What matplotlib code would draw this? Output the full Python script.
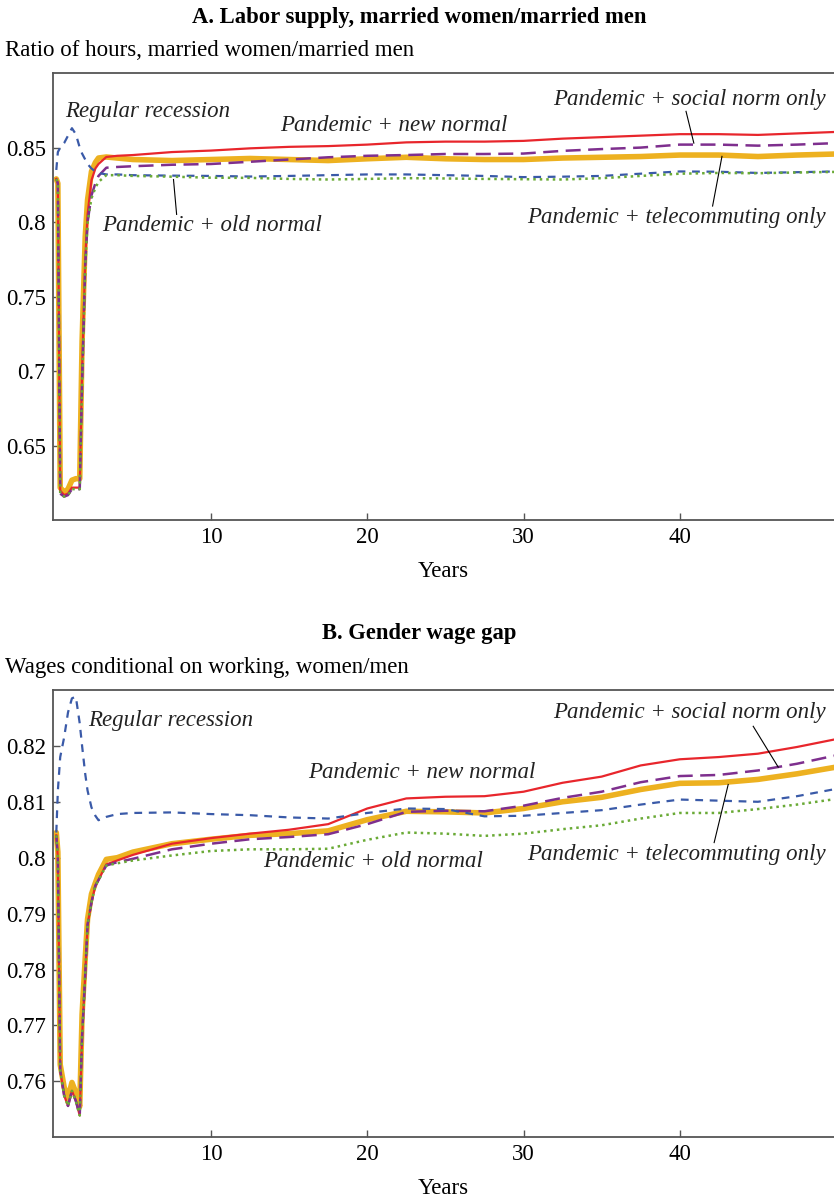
import numpy as np
import matplotlib.pyplot as plt

# years after shock (common grid for all series)
years = [0.1, 0.2, 0.35, 0.6, 0.85, 1.1, 1.35, 1.6, 1.75, 1.95, 2.1, 2.35, 2.6, 2.8, 3.3,
         4, 5, 7.5, 10, 12.5, 15, 17.5, 20, 22.5, 25, 27.5, 30, 32.5, 35, 37.5, 40, 42.5, 45, 47.5, 50]

# Panel A: ratio of hours, married women / married men
hours_new_normal = [0.829, 0.826, 0.620, 0.617, 0.618, 0.622, 0.622, 0.622, 0.700, 0.775, 0.805, 0.828, 0.836, 0.839, 0.8437,
                    0.8445, 0.845, 0.847, 0.848, 0.8495, 0.8505, 0.851, 0.852, 0.8535, 0.854, 0.854, 0.8545, 0.856, 0.857,
                    0.858, 0.859, 0.859, 0.8585, 0.8595, 0.8605]
hours_telecommuting = [0.829, 0.826, 0.622, 0.619, 0.621, 0.627, 0.628, 0.628, 0.720, 0.790, 0.815, 0.834, 0.840, 0.843, 0.8437,
                       0.843, 0.842, 0.8413, 0.842, 0.8427, 0.842, 0.8413, 0.8425, 0.8435, 0.8425, 0.842, 0.842, 0.843, 0.8435,
                       0.844, 0.845, 0.845, 0.844, 0.845, 0.8457]
hours_social_norm = [0.829, 0.826, 0.618, 0.616, 0.617, 0.621, 0.621, 0.621, 0.690, 0.770, 0.800, 0.818, 0.826, 0.831, 0.8365,
                     0.837, 0.8375, 0.8385, 0.839, 0.8405, 0.842, 0.8435, 0.8445, 0.845, 0.8457, 0.8457, 0.846, 0.8478, 0.849,
                     0.850, 0.852, 0.852, 0.8513, 0.852, 0.853]
hours_old_normal = [0.829, 0.826, 0.618, 0.616, 0.617, 0.621, 0.621, 0.621, 0.690, 0.770, 0.800, 0.816, 0.823, 0.827, 0.8315,
                    0.8315, 0.831, 0.8305, 0.8298, 0.8297, 0.829, 0.8286, 0.829, 0.8295, 0.8293, 0.829, 0.8288, 0.8286, 0.8295,
                    0.831, 0.8325, 0.833, 0.8328, 0.8333, 0.8337]
hours_recession = [0.835, 0.847, 0.850, 0.853, 0.858, 0.863, 0.859, 0.850, 0.846, 0.842, 0.839, 0.836, 0.834, 0.833, 0.832,
                   0.832, 0.8315, 0.8312, 0.831, 0.8306, 0.831, 0.8315, 0.832, 0.832, 0.8315, 0.831, 0.8302, 0.8305, 0.831,
                   0.8325, 0.834, 0.8338, 0.833, 0.8335, 0.834]

# Panel B: wages conditional on working, women / men
wage_new_normal = [0.804, 0.800, 0.762, 0.7575, 0.7556, 0.7583, 0.7565, 0.7539, 0.768, 0.779, 0.788, 0.792, 0.795, 0.796, 0.7988,
                   0.7995, 0.8005, 0.8025, 0.8035, 0.8043, 0.805, 0.806, 0.8088, 0.8106, 0.8109, 0.811, 0.8118, 0.8134, 0.8145,
                   0.8165, 0.8176, 0.818, 0.8186, 0.8198, 0.8212]
wage_telecommuting = [0.8045, 0.801, 0.763, 0.759, 0.757, 0.7598, 0.758, 0.7555, 0.772, 0.782, 0.789, 0.7935, 0.7955, 0.797, 0.7997,
                      0.800, 0.801, 0.8025, 0.8033, 0.804, 0.8043, 0.8048, 0.8068, 0.8083, 0.8082, 0.808, 0.8088, 0.810, 0.8108,
                      0.8122, 0.8133, 0.8134, 0.814, 0.815, 0.8162]
wage_social_norm = [0.804, 0.800, 0.762, 0.7575, 0.7556, 0.7583, 0.7565, 0.7539, 0.768, 0.779, 0.788, 0.792, 0.795, 0.796, 0.7986,
                    0.7992, 0.7998, 0.8015, 0.8025, 0.8033, 0.8037, 0.8042, 0.806, 0.8082, 0.8084, 0.8083, 0.8093, 0.8107, 0.8118,
                    0.8135, 0.8146, 0.8148, 0.8156, 0.8168, 0.8183]
wage_old_normal = [0.804, 0.800, 0.762, 0.7575, 0.7556, 0.7583, 0.7565, 0.7539, 0.768, 0.779, 0.788, 0.792, 0.795, 0.796, 0.7986,
                   0.799, 0.7995, 0.8004, 0.8012, 0.8015, 0.8015, 0.8016, 0.8032, 0.8045, 0.8043, 0.8039, 0.8043, 0.8051, 0.8058,
                   0.807, 0.808, 0.808, 0.8087, 0.8095, 0.8105]
wage_recession = [0.8045, 0.812, 0.818, 0.8215, 0.826, 0.8285, 0.8288, 0.824, 0.820, 0.815, 0.812, 0.809, 0.8075, 0.8067, 0.8073,
                  0.8078, 0.808, 0.8081, 0.8078, 0.8076, 0.8072, 0.807, 0.808, 0.8088, 0.8087, 0.8074, 0.8075, 0.808, 0.8085,
                  0.8095, 0.8104, 0.8102, 0.810, 0.811, 0.8123]

plt.rcParams['font.family'] = ['Liberation Serif', 'DejaVu Serif']
plt.rcParams['font.size'] = 16.5

RED = '#e8262c'
YELLOW = '#edb120'
PURPLE = '#7e2f8e'
BLUE = '#3a5aa8'
GREEN = '#6aaa36'
SPINE = '#555555'
FS = 16.5


def draw_panel(ax, new, tele, social, old, rec):
    ax.plot(years, tele, color=YELLOW, lw=4.0, solid_capstyle='round')
    ax.plot(years, new, color=RED, lw=1.6)
    ax.plot(years, social, color=PURPLE, lw=1.8, dashes=(6, 3))
    ax.plot(years, rec, color=BLUE, lw=1.6, dashes=(3.5, 3))
    ax.plot(years, old, color=GREEN, lw=1.8, dashes=(1, 1.6))
    ax.set_xlim(-0.13, 49.87)
    ax.set_xticks([10, 20, 30, 40])
    ax.tick_params(direction='in', length=5, width=1.0, color=SPINE, labelsize=FS, pad=5)
    for s in ['left', 'bottom', 'top']:
        ax.spines[s].set_color(SPINE)
        ax.spines[s].set_linewidth(1.3)
    ax.spines['right'].set_visible(False)
    ax.set_xlabel('Years', fontsize=FS, labelpad=9)


fig = plt.figure(figsize=(8.34, 11.97), dpi=100)

# Panel A
ax1 = fig.add_axes([0.0632, 0.5652, 0.9368, 0.3738])
draw_panel(ax1, hours_new_normal, hours_telecommuting, hours_social_norm, hours_old_normal, hours_recession)
ax1.set_ylim(0.6, 0.9)
ax1.set_yticks([0.65, 0.7, 0.75, 0.8, 0.85])
ax1.set_yticklabels(['0.65', '0.7', '0.75', '0.8', '0.85'])
lab = dict(fontsize=FS, style='italic', color='#222222')
ax1.text(0.66, 0.8743, 'Regular recession', ha='left', va='center', **lab)
ax1.text(21.7, 0.8648, 'Pandemic + new normal', ha='center', va='center', **lab)
ax1.text(49.35, 0.8822, 'Pandemic + social norm only', ha='right', va='center', **lab)
ax1.text(49.35, 0.8034, 'Pandemic + telecommuting only', ha='right', va='center', **lab)
ax1.text(10.1, 0.7980, 'Pandemic + old normal', ha='center', va='center', **lab)
ax1.plot([40.4, 40.9], [0.8743, 0.8530], color='black', lw=0.8)
ax1.plot([42.1, 42.7], [0.8108, 0.8441], color='black', lw=0.8)
ax1.plot([7.6, 7.8], [0.8286, 0.8052], color='black', lw=0.8)

fig.text(0.503, 1 - 17 / 1197, 'A. Labor supply, married women/married men', ha='center', va='center',
         fontsize=16.3, fontweight='bold')
fig.text(0.006, 1 - 50 / 1197, 'Ratio of hours, married women/married men', ha='left', va='center', fontsize=FS)

# Panel B
ax2 = fig.add_axes([0.0632, 0.0499, 0.9368, 0.3737])
draw_panel(ax2, wage_new_normal, wage_telecommuting, wage_social_norm, wage_old_normal, wage_recession)
ax2.set_ylim(0.75, 0.83)
ax2.set_yticks([0.76, 0.77, 0.78, 0.79, 0.8, 0.81, 0.82])
ax2.set_yticklabels(['0.76', '0.77', '0.78', '0.79', '0.8', '0.81', '0.82'])
ax2.text(2.13, 0.8245, 'Regular recession', ha='left', va='center', **lab)
ax2.text(23.5, 0.8152, 'Pandemic + new normal', ha='center', va='center', **lab)
ax2.text(20.4, 0.7994, 'Pandemic + old normal', ha='center', va='center', **lab)
ax2.text(49.35, 0.8260, 'Pandemic + social norm only', ha='right', va='center', **lab)
ax2.text(49.35, 0.8006, 'Pandemic + telecommuting only', ha='right', va='center', **lab)
ax2.plot([44.7, 46.3], [0.8235, 0.8162], color='black', lw=0.8)
ax2.plot([42.2, 43.1], [0.8027, 0.8131], color='black', lw=0.8)

fig.text(0.503, 1 - 634 / 1197, 'B. Gender wage gap', ha='center', va='center', fontsize=16.3, fontweight='bold')
fig.text(0.006, 1 - 667 / 1197, 'Wages conditional on working, women/men', ha='left', va='center', fontsize=FS)

fig.savefig('out.png', dpi=100)
